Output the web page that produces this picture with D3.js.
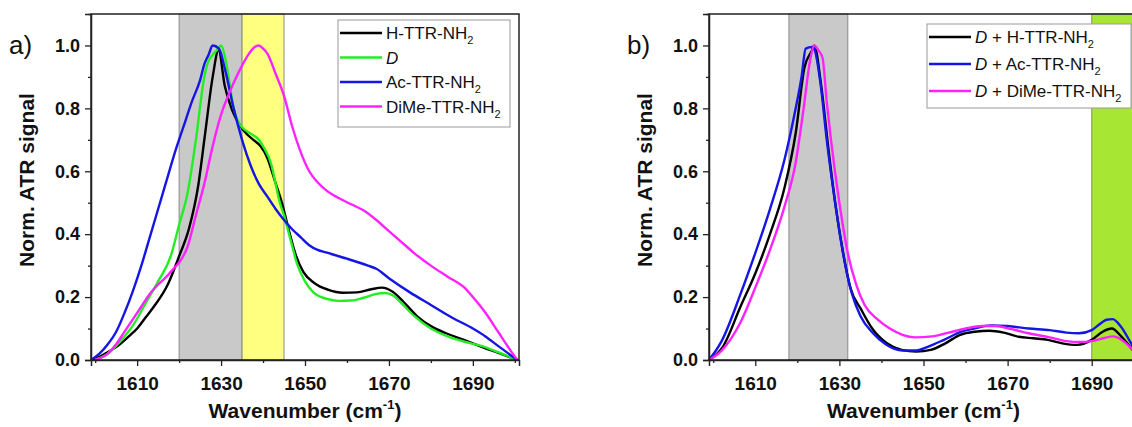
<!DOCTYPE html>
<meta charset="utf-8">
<style>
  body { margin: 0; background-color: #fff; }
  svg { display: block; font-family: "Liberation Sans", Arial, sans-serif; }
  .tick text { font-weight: bold; font-size: 18px; fill: #111; }
  .xaxis .tick text { font-size: 19px; }
  .title { font-weight: bold; font-size: 21px; fill: #111; }
  .legend text { font-size: 17px; fill: #111; }
</style>
<body>
<svg width="1132" height="427"></svg>
<script src="https://cdn.jsdelivr.net/npm/d3@7"></script>
<script>

// ---- data: [wavenumber, normalised signal] ----

// panel a
var aH = [[1599,0],[1601,0.01],[1603,0.025],[1605.4,0.045],[1608,0.075],[1610,0.1],[1612,0.135],[1614,0.17],[1617.3,0.24],[1620,0.33],
  [1622.4,0.42],[1624.5,0.55],[1626.2,0.72],[1628,0.9],[1629.4,0.985],[1630.9,0.87],[1632.6,0.795],[1634.3,0.75],[1636,0.72],
  [1637.7,0.70],[1639.4,0.68],[1641.1,0.64],[1642.8,0.57],[1644.5,0.50],[1646.2,0.41],[1647.9,0.33],[1649.6,0.28],[1652.2,0.245],
  [1655.6,0.223],[1659,0.214],[1662.4,0.215],[1665.8,0.225],[1668.3,0.23],[1670.9,0.217],[1673.4,0.186],[1676.8,0.138],
  [1680.2,0.106],[1683.6,0.085],[1687.9,0.064],[1692.1,0.042],[1696.4,0.021],[1700.6,0]];
var aD = [[1600,0],[1603,0.02],[1606,0.06],[1609,0.11],[1612,0.18],[1615,0.25],[1618,0.33],[1620,0.43],[1622,0.53],[1624,0.70],
  [1626,0.90],[1627,0.95],[1628,0.97],[1629,0.985],[1630,1.0],[1631,0.96],[1632,0.88],[1633,0.80],[1634,0.76],[1635,0.74],
  [1637,0.72],[1639,0.70],[1640,0.68],[1642,0.62],[1643,0.56],[1644,0.50],[1645,0.46],[1646,0.41],[1647,0.36],[1648,0.31],
  [1650,0.25],[1652,0.215],[1655,0.195],[1658,0.188],[1661,0.189],[1664,0.198],[1667,0.21],[1669,0.213],[1671,0.205],
  [1673,0.18],[1676,0.14],[1680,0.10],[1684,0.075],[1688,0.058],[1692,0.045],[1696,0.025],[1700.6,0]];
var aAc = [[1599,0],[1601,0.02],[1603,0.05],[1605,0.09],[1607,0.15],[1609,0.22],[1611,0.30],[1613,0.39],[1615,0.48],[1617,0.57],
  [1619,0.66],[1621,0.74],[1623,0.82],[1625,0.89],[1626,0.94],[1627,0.97],[1628,1.0],[1629.5,0.99],[1631,0.92],[1633,0.80],
  [1635,0.70],[1637,0.62],[1639,0.56],[1641,0.52],[1643,0.48],[1645,0.445],[1647,0.415],[1649,0.39],[1651,0.365],[1653,0.35],
  [1655,0.342],[1660,0.322],[1665,0.30],[1667,0.29],[1670,0.26],[1675,0.215],[1680,0.175],[1685,0.135],[1690,0.10],
  [1693,0.075],[1696,0.045],[1700.6,0]];
var aDiMe = [[1600,0],[1603,0.02],[1605,0.05],[1607,0.09],[1609,0.13],[1611,0.17],[1613,0.21],[1615,0.24],[1617,0.265],[1619,0.295],
  [1620,0.31],[1622,0.36],[1624,0.46],[1626,0.56],[1628,0.68],[1630,0.78],[1632,0.85],[1634,0.91],[1636,0.96],[1638,0.995],
  [1639,1.0],[1640,0.99],[1641,0.975],[1643,0.91],[1645,0.84],[1647,0.74],[1649,0.66],[1651,0.60],[1653,0.565],[1655,0.54],
  [1658,0.515],[1661,0.495],[1664,0.475],[1667,0.445],[1670,0.41],[1673,0.375],[1676,0.34],[1680,0.30],[1684,0.265],
  [1688,0.23],[1690,0.20],[1693,0.15],[1696,0.09],[1699,0.03],[1700.6,0]];

// panel b
var bH = [[1599,0],[1602.2,0.04],[1606.5,0.17],[1610,0.275],[1613.5,0.40],[1617,0.55],[1619.6,0.72],[1621.7,0.93],[1623.5,0.985],
  [1624,1.0],[1625.7,0.87],[1627.4,0.67],[1629.1,0.49],[1630.9,0.34],[1632.6,0.23],[1635.2,0.16],[1637.8,0.10],[1641.3,0.053],
  [1644.8,0.032],[1648.3,0.027],[1651.7,0.032],[1655.2,0.053],[1658.7,0.08],[1662.2,0.09],[1665.7,0.093],[1669.1,0.087],
  [1672.6,0.074],[1676.1,0.069],[1679.6,0.064],[1683,0.053],[1686.5,0.048],[1690,0.064],[1692.6,0.09],[1694.8,0.1],
  [1697,0.075],[1699.4,0.037],[1700.5,0.02]];
var bAc = [[1599,0],[1602,0.06],[1606.5,0.21],[1610,0.34],[1613.5,0.48],[1617,0.64],[1619,0.76],[1621,0.90],[1622,0.99],
  [1623.5,0.995],[1624,0.99],[1625.5,0.88],[1627,0.70],[1629,0.50],[1631,0.33],[1633,0.21],[1635,0.14],[1638,0.085],
  [1641,0.05],[1645,0.03],[1648,0.03],[1651,0.042],[1655,0.065],[1659,0.09],[1662,0.10],[1666,0.11],[1670,0.108],
  [1675,0.10],[1680,0.095],[1684,0.087],[1687,0.085],[1690,0.095],[1692,0.115],[1693.5,0.128],[1695,0.13],[1697,0.105],
  [1699.5,0.05],[1700.5,0.03]];
var bDiMe = [[1599,0],[1602,0.03],[1606.5,0.12],[1610,0.23],[1613.5,0.35],[1617,0.49],[1619.5,0.62],[1621.5,0.80],[1623,0.95],
  [1624,1.0],[1625,0.985],[1626,0.96],[1627,0.82],[1628,0.70],[1630,0.50],[1632,0.34],[1634,0.24],[1636,0.175],[1639,0.13],
  [1642,0.10],[1645,0.08],[1648,0.072],[1652,0.075],[1656,0.087],[1660,0.10],[1664,0.108],[1667,0.108],[1671,0.098],
  [1675,0.085],[1680,0.072],[1684,0.06],[1687,0.057],[1690,0.06],[1693,0.07],[1695,0.075],[1697,0.065],[1699.5,0.035],
  [1700.5,0.02]];

var xTicks = [1610, 1630, 1650, 1670, 1690];
var xMinor = [1600, 1620, 1640, 1660, 1680, 1700];
var yTicks = [0, 0.2, 0.4, 0.6, 0.8, 1.0];
var yMinor = [0.1, 0.3, 0.5, 0.7, 0.9, 1.1];

var aLabels = ["H-TTR-NH|2", "*D", "Ac-TTR-NH|2", "DiMe-TTR-NH|2"];
var bLabels = ["*D + H-TTR-NH|2", "*D + Ac-TTR-NH|2", "*D + DiMe-TTR-NH|2"];

// shaded regions [from, to]
var aBands = [[1620, 1635], [1635, 1645]];
var bBands = [[1618, 1632], [1690, 1701]];

var svg = d3.select("svg");

var panels = [
  { tag: "a)", left: 91, right: 519, series: [aH, aD, aAc, aDiMe], colors: ["#000", "#22ee22", "#1515e6", "#ff22ff"],
    labels: aLabels, bands: aBands, bandColors: ["#c9c9c9", "#ffff80"],
    legend: { x: 338, y: 20, w: 172, h: 107, row: 24.5 } },
  { tag: "b)", left: 709, right: 1138, series: [bH, bAc, bDiMe], colors: ["#000", "#1515e6", "#ff22ff"],
    labels: bLabels, bands: bBands, bandColors: ["#c9c9c9", "#a8e634"],
    legend: { x: 927, y: 24, w: 204, h: 84, row: 27 } }
];

var plotTop = 14, plotBottom = 360;

panels.forEach(function(p) {
  var x = d3.scaleLinear().domain([1599, 1701]).range([p.left, p.right]);
  var y = d3.scaleLinear().domain([0, 1.1]).range([plotBottom, plotTop]);
  var g = svg.append("g");

  // shaded bands
  g.selectAll("rect.band")
    .data(p.bands)
    .enter().append("rect")
      .attr("class", "band")
      .attr("x", function(d) { return x(d[0]); })
      .attr("y", plotTop)
      .attr("width", function(d) { return x(d[1]) - x(d[0]); })
      .attr("height", plotBottom - plotTop)
      .attr("fill", function(d, i) { return p.bandColors[i]; })
      .attr("stroke", "#8a8a8a")
      .attr("stroke-width", 1);

  // curves
  var line = d3.line()
    .x(function(d) { return x(d[0]); })
    .y(function(d) { return y(d[1]); })
    .curve(d3.curveMonotoneX);

  g.selectAll("path.curve")
    .data(p.series)
    .enter().append("path")
      .attr("class", "curve")
      .attr("d", line)
      .attr("fill", "none")
      .attr("stroke", function(d, i) { return p.colors[i]; })
      .attr("stroke-width", 2.4)
      .attr("stroke-linejoin", "round");

  // frame
  g.append("rect")
    .attr("x", p.left).attr("y", plotTop)
    .attr("width", p.right - p.left).attr("height", plotBottom - plotTop)
    .attr("fill", "none").attr("stroke", "#222").attr("stroke-width", 1.5);

  // axes
  var xAxis = g.append("g").attr("class", "xaxis").attr("transform", "translate(0," + plotBottom + ")")
    .call(d3.axisBottom(x).tickValues(xTicks).tickFormat(d3.format("d")).tickSize(6).tickPadding(8));
  g.append("g").attr("transform", "translate(0," + plotBottom + ")")
    .call(d3.axisBottom(x).tickValues(xMinor).tickFormat("").tickSize(3))
    .select(".domain").remove();
  g.append("g").attr("transform", "translate(" + p.left + ",0)")
    .call(d3.axisLeft(y).tickValues(yTicks).tickFormat(d3.format(".1f")).tickSize(6).tickPadding(5));
  g.append("g").attr("transform", "translate(" + p.left + ",0)")
    .call(d3.axisLeft(y).tickValues(yMinor).tickFormat("").tickSize(3))
    .select(".domain").remove();
  g.selectAll(".domain").attr("stroke", "#222").attr("stroke-width", 1.5);
  g.selectAll(".tick line").attr("stroke", "#222").attr("stroke-width", 1.3);
  xAxis.selectAll(".tick text").attr("dy", "0.85em");

  // axis titles
  var xt = g.append("text").attr("class", "title")
    .attr("x", (p.left + p.right) / 2).attr("y", 418)
    .attr("text-anchor", "middle");
  xt.append("tspan").text("Wavenumber (cm");
  xt.append("tspan").text("-1").attr("font-size", "13px").attr("dy", -9);
  xt.append("tspan").text(")").attr("dy", 9);

  g.append("text").attr("class", "title")
    .attr("transform", "translate(" + (p.left - 57) + "," + 180 + ") rotate(-90)")
    .attr("text-anchor", "middle")
    .text("Norm. ATR signal");

  g.append("text")
    .attr("x", p.left - 82).attr("y", 54)
    .attr("font-size", "26px").attr("fill", "#111")
    .text(p.tag);

  // legend
  var L = p.legend;
  var lg = g.append("g").attr("class", "legend");
  lg.append("rect")
    .attr("x", L.x).attr("y", L.y).attr("width", L.w).attr("height", L.h)
    .attr("fill", "#fff").attr("stroke", "#999").attr("stroke-width", 1);

  p.labels.forEach(function(lab, i) {
    var cy = L.y + 13 + i * L.row;
    lg.append("line")
      .attr("x1", L.x + 2).attr("x2", L.x + 44)
      .attr("y1", cy).attr("y2", cy)
      .attr("stroke", p.colors[i]).attr("stroke-width", 2.4);
    var t = lg.append("text").attr("x", L.x + 48).attr("y", cy + 6);
    var s = lab;
    if (s[0] === "*") {
      t.append("tspan").attr("font-style", "italic").text("D");
      s = s.slice(2);
    }
    var parts = s.split("|");
    t.append("tspan").text(parts[0]);
    if (parts[1]) {
      t.append("tspan").text(parts[1]).attr("font-size", "11px").attr("dy", 5);
    }
  });
});

</script>
</body>
